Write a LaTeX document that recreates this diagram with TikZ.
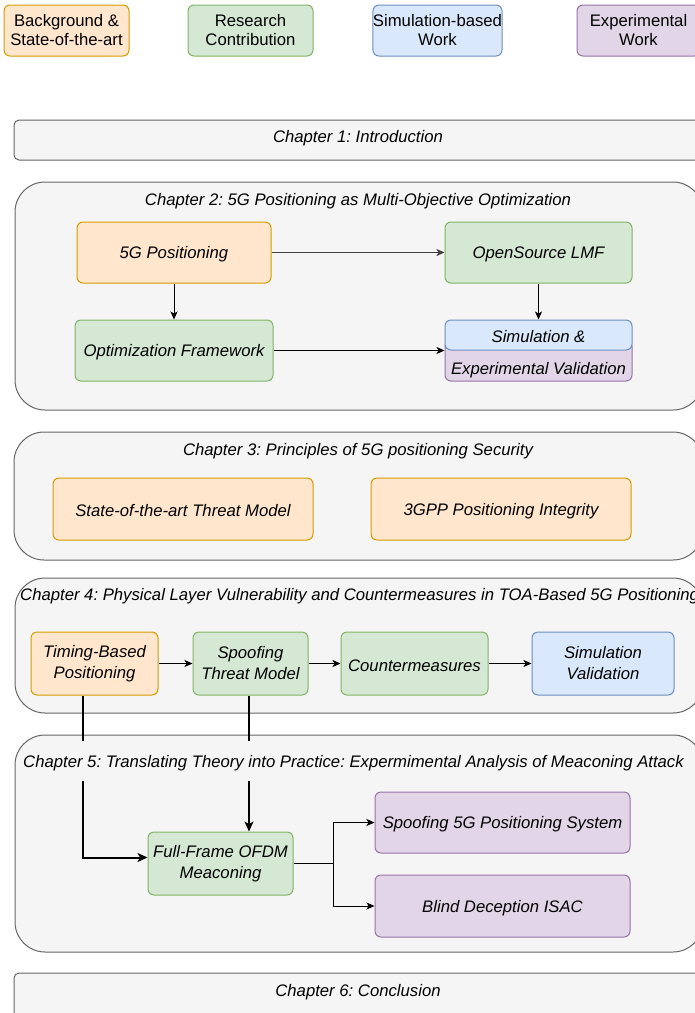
\documentclass[tikz,border=0pt]{standalone}
\usepackage{fontspec}
\setmainfont{Liberation Sans}
\usetikzlibrary{arrows.meta}
\definecolor{orfill}{HTML}{FFE6CC}\definecolor{orline}{HTML}{D79B00}
\definecolor{grfill}{HTML}{D5E8D4}\definecolor{grline}{HTML}{82B366}
\definecolor{blfill}{HTML}{DAE8FC}\definecolor{blline}{HTML}{6C8EBF}
\definecolor{pufill}{HTML}{E1D5E7}\definecolor{puline}{HTML}{9673A6}
\definecolor{chfill}{HTML}{F5F5F5}\definecolor{chline}{HTML}{666666}
\newcommand\dsize{\fontsize{16.7}{19}\selectfont\frenchspacing}
\newcommand\bsize{\fontsize{16.7}{21}\selectfont\frenchspacing}
\tikzset{
  box/.style={draw, rounded corners=6pt, line width=1pt, align=center, inner sep=0pt,
    font=\bsize\itshape, execute at begin node={\rule{0pt}{16pt}}},
  bgbox/.style={box, fill=orfill, draw=orline},
  rcbox/.style={box, fill=grfill, draw=grline},
  simbox/.style={box, fill=blfill, draw=blline},
  expbox/.style={box, fill=pufill, draw=puline},
  lgd/.style={font=\dsize, minimum height=51, execute at begin node={}},
  chapbig/.style={draw=chline, fill=chfill, line width=1pt, rounded corners=30pt},
  chapsmall/.style={draw=chline, fill=chfill, line width=1pt, rounded corners=5pt},
  title/.style={font=\dsize\itshape, inner sep=0pt},
  arr/.style={draw=black, line width=1pt, -{Stealth[length=8pt,width=7pt,inset=2pt]}},
  thickarr/.style={draw=black, line width=2pt, -{Stealth[length=10pt,width=9pt,inset=2.5pt]}},
}
\begin{document}
\begin{tikzpicture}[x=1pt,y=-1pt]
\useasboundingbox (0,0) rectangle (695,1013);
\clip (0,0) rectangle (695,1013);
\fill[white] (0,0) rectangle (695,1013);

% legend
\node[bgbox, lgd, minimum width=125] (lbg) at (66.5,30.5) {Background \&\\State-of-the-art};
\node[rcbox, lgd, minimum width=125] (lrc) at (250.5,30.5) {Research\\Contribution};
\node[simbox, lgd, minimum width=125] (lsim) at (437.5,30.5) {Simulation-based\\Work};
\node[expbox, lgd, minimum width=123] (lexp) at (638.5,30.5) {Experimental\\Work};

% Chapter 1
\draw[chapsmall] (14,120) rectangle (720,160);
\node[title] (c1) at (358,138) {Chapter 1: Introduction};

% Chapter 2
\draw[chapbig] (15,182) rectangle (703,410);
\node[title] (c2) at (358,201) {Chapter 2: 5G Positioning as Multi-Objective Optimization};
\node[bgbox, minimum width=194, minimum height=61] (pos) at (174,252.5) {5G Positioning};
\node[rcbox, minimum width=187, minimum height=61] (lmf) at (538.5,252.5) {OpenSource LMF};
\node[rcbox, minimum width=198, minimum height=61] (opt) at (174,350.5) {Optimization Framework};
\node[expbox, minimum width=187, minimum height=41] (valb) at (538.5,360.5) {};
\node[title] (valt) at (538.5,370.5) {Experimental Validation};
\node[simbox, minimum width=187, minimum height=30] (valt0) at (538.5,335) {Simulation \&};
\draw[arr, draw=black!75, line width=1.5pt] (pos) -- (lmf);
\draw[arr] (pos) -- (opt);
\draw[arr] (lmf) -- (valt0);
\draw[arr] (opt.east) -- (opt.east -| valb.west);

% Chapter 3
\draw[chapbig] (14,432) rectangle (703,560);
\node[title] (c3) at (358,451) {Chapter 3: Principles of 5G positioning Security};
\node[bgbox, minimum width=260, minimum height=62] (tm) at (183,509) {State-of-the-art Threat Model};
\node[bgbox, minimum width=260, minimum height=62] (gi) at (501,509) {3GPP Positioning Integrity};

% Chapter 4
\draw[chapbig] (15,578) rectangle (703,713);
\node[title, anchor=west] (c4) at (20,596) {Chapter 4: Physical Layer Vulnerability and Countermeasures in TOA-Based 5G Positioning};
\node[bgbox, minimum width=127, minimum height=63] (tb) at (94.5,663.5) {Timing-Based\\Positioning};
\node[rcbox, minimum width=115, minimum height=63] (stm) at (250.5,663.5) {Spoofing\\Threat Model};
\node[rcbox, minimum width=147, minimum height=63] (cm) at (414.5,663.5) {Countermeasures};
\node[simbox, minimum width=142, minimum height=63] (sv) at (603,663.5) {Simulation\\Validation};
\draw[arr] (tb) -- (stm);
\draw[arr] (stm) -- (cm);
\draw[arr] (cm) -- (sv);

% Chapter 5
\draw[chapbig] (15,735) rectangle (703,952);
\node[rcbox, minimum width=145, minimum height=63] (ff) at (220.5,863.5) {Full-Frame OFDM\\Meaconing};
\node[expbox, minimum width=255, minimum height=61] (sp) at (502.5,822.5) {Spoofing 5G Positioning System};
\node[expbox, minimum width=255, minimum height=62] (bd) at (502.5,906) {Blind Deception ISAC};
\draw[thickarr] ([xshift=-11.5pt]tb.south) |- ([yshift=6pt]ff.west);
\draw[thickarr] ([xshift=-1.5pt]stm.south) -- ([xshift=-1.5pt]stm.south |- ff.north);
% title band of chapter 5 lies over the incoming lines
\fill[chfill] (40,741) rectangle (300,781);
\node[title, anchor=west] (c5) at (23,763) {Chapter 5: Translating Theory into Practice: Expermimental Analysis of Meaconing Attack};
\draw[arr] (ff.east) -- ++(40,0) |- (sp.west);
\draw[arr] (ff.east) -- ++(40,0) |- (bd.west);

% Chapter 6
\draw[chapsmall] (14,973) rectangle (720,1030);
\node[title] (c6) at (358,992) {Chapter 6: Conclusion};
\end{tikzpicture}
\end{document}
